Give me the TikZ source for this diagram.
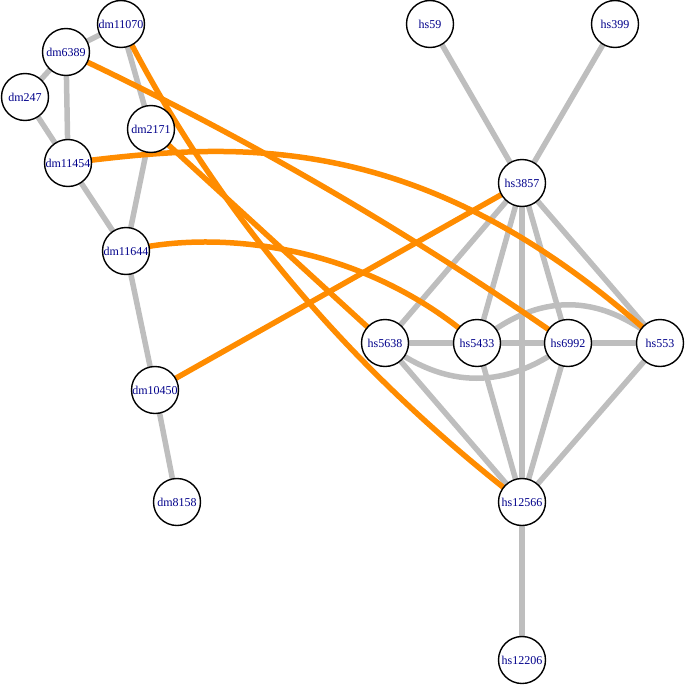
\documentclass[tikz,border=0pt]{standalone}
\usepackage{fontspec}
\setmainfont{Liberation Serif}
\definecolor{edgegray}{HTML}{BEBEBE}
\definecolor{edgeorange}{HTML}{FF8C00}
\definecolor{labelblue}{HTML}{00008B}
\tikzset{
  vtx/.style={circle, draw=black, line width=1.4pt, fill=white, minimum size=47pt, inner sep=0pt, text=labelblue, font=\fontsize{12}{12}\selectfont},
  gedge/.style={draw=edgegray, line width=5.5pt},
  oedge/.style={draw=edgeorange, line width=5.5pt},
}
\begin{document}
\begin{tikzpicture}[x=1pt,y=-1pt]
\useasboundingbox (0,0) rectangle (685,685);
% node coordinates
\coordinate (p-dm11070) at (121,24);
\coordinate (p-dm6389) at (66,52);
\coordinate (p-dm247) at (25,97);
\coordinate (p-dm2171) at (151,129);
\coordinate (p-dm11454) at (68,163);
\coordinate (p-dm11644) at (126,251);
\coordinate (p-dm10450) at (155,390);
\coordinate (p-dm8158) at (177,502);
\coordinate (p-hs59) at (430,24);
\coordinate (p-hs399) at (615,24);
\coordinate (p-hs3857) at (522,183);
\coordinate (p-hs5638) at (385,343);
\coordinate (p-hs5433) at (477,343);
\coordinate (p-hs6992) at (568,343);
\coordinate (p-hs553) at (660,343);
\coordinate (p-hs12566) at (522,502);
\coordinate (p-hs12206) at (522,660);
% gray edges
\draw[gedge] (p-dm11070) -- (p-dm6389);
\draw[gedge] (p-dm11070) -- (p-dm2171);
\draw[gedge] (p-dm6389) -- (p-dm247);
\draw[gedge] (p-dm6389) -- (p-dm11454);
\draw[gedge] (p-dm247) -- (p-dm11454);
\draw[gedge] (p-dm11454) -- (p-dm11644);
\draw[gedge] (p-dm2171) -- (p-dm11644);
\draw[gedge] (p-dm11644) -- (p-dm10450);
\draw[gedge] (p-dm10450) -- (p-dm8158);
\draw[gedge] (p-hs59) -- (p-hs3857);
\draw[gedge] (p-hs399) -- (p-hs3857);
\draw[gedge] (p-hs3857) -- (p-hs5638);
\draw[gedge] (p-hs3857) -- (p-hs5433);
\draw[gedge] (p-hs3857) -- (p-hs6992);
\draw[gedge] (p-hs3857) -- (p-hs553);
\draw[gedge] (p-hs3857) -- (p-hs12566);
\draw[gedge] (p-hs5638) -- (p-hs5433);
\draw[gedge] (p-hs5433) -- (p-hs6992);
\draw[gedge] (p-hs6992) -- (p-hs553);
\draw[gedge] (p-hs5638) .. controls (446,390) and (507,390) .. (p-hs6992);
\draw[gedge] (p-hs5433) .. controls (538,292) and (599,292) .. (p-hs553);
\draw[gedge] (p-hs5638) -- (p-hs12566);
\draw[gedge] (p-hs5433) -- (p-hs12566);
\draw[gedge] (p-hs6992) -- (p-hs12566);
\draw[gedge] (p-hs553) -- (p-hs12566);
\draw[gedge] (p-hs12566) -- (p-hs12206);
% orange edges
\draw[oedge] (p-dm11070) .. controls (214,208) and (347,367) .. (p-hs12566);
\draw[oedge] (p-dm6389) .. controls (241,134) and (408,231) .. (p-hs6992);
\draw[oedge] (p-dm2171) -- (p-hs5638);
\draw[oedge] (p-dm11454) .. controls (230,143) and (420,123) .. (p-hs553);
\draw[oedge] (p-dm11644) .. controls (210,230) and (360,240) .. (p-hs5433);
\draw[oedge] (p-dm10450) -- (p-hs3857);
% nodes
\foreach \n in {dm11070,dm6389,dm247,dm2171,dm11454,dm11644,dm10450,dm8158,hs59,hs399,hs3857,hs5638,hs5433,hs6992,hs553,hs12566,hs12206}
  \node[vtx] (\n) at (p-\n) {\n};
\end{tikzpicture}
\end{document}
